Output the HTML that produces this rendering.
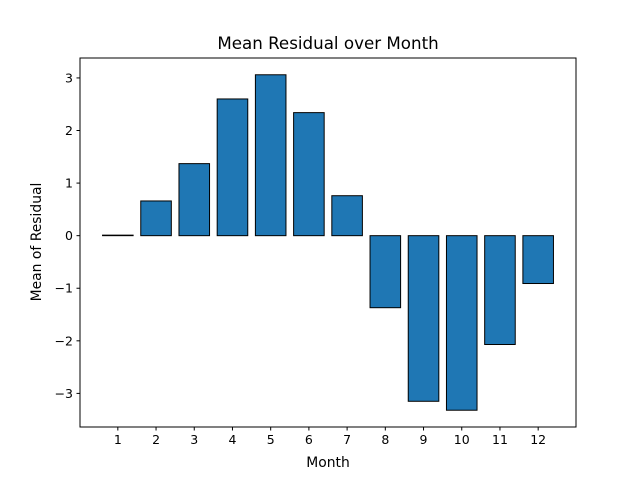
<!DOCTYPE html>
<html><head><meta charset="utf-8"><style>
body{margin:0;background:#fff}
svg{display:block;font-family:"DejaVu Sans","Liberation Sans",sans-serif}
</style></head><body>
<svg id="c" width="640" height="480" viewBox="0 0 640 480">
<rect width="640" height="480" fill="#fff"/>
<text x="328" y="49" text-anchor="middle" font-size="16.7">Mean Residual over Month</text>
<g id="bars"></g>
<g id="ticks"></g>
<rect x="80" y="58" width="496" height="369" fill="none" stroke="#000" stroke-width="1"/>
<text x="328" y="467" text-anchor="middle" font-size="13.9">Month</text>
<text transform="translate(41,242) rotate(-90)" text-anchor="middle" font-size="13.9">Mean of Residual</text>
</svg>
<script>
const categories=[1,2,3,4,5,6,7,8,9,10,11,12];
const values=[0.01,0.66,1.37,2.60,3.06,2.34,0.76,-1.37,-3.15,-3.32,-2.07,-0.91];
const yTicks=[-3,-2,-1,0,1,2,3];
const NS="http://www.w3.org/2000/svg";
const L=80,R=576,T=58,B=427;
let mn=Math.min(0,...values),mx=Math.max(0,...values);
let m=(mx-mn)*0.05;const y0=mn-m,y1=mx+m;
const x0=categories[0]-0.4-(categories.length-1+0.8)*0.05,x1=categories[categories.length-1]+0.4+(categories.length-1+0.8)*0.05;
const xs=v=>L+(v-x0)/(x1-x0)*(R-L);
const ys=v=>B-(v-y0)/(y1-y0)*(B-T);
const bars=document.getElementById('bars'),ticks=document.getElementById('ticks');
function mk(t,a,p){const e=document.createElementNS(NS,t);for(const k in a)e.setAttribute(k,a[k]);p.appendChild(e);return e;}
categories.forEach((c,i)=>{
 const v=values[i];const ya=ys(Math.max(v,0)),yb=ys(Math.min(v,0));
 const r=mk('rect',{x:xs(c-0.4),y:ya,width:xs(c+0.4)-xs(c-0.4),height:Math.max(yb-ya,0.5),fill:'#1f77b4',stroke:'#000','stroke-width':1},bars);
 
 
 const tl=mk('line',{x1:xs(c),x2:xs(c),y1:B,y2:B+3.5,stroke:'#000'},ticks);
 
 
 const tt=mk('text',{x:xs(c),y:B+17,'text-anchor':'middle','font-size':'12.5'},ticks);tt.textContent=c;
 
 
});
yTicks.forEach(v=>{
 const tl=mk('line',{x1:L-3.5,x2:L,y1:ys(v),y2:ys(v),stroke:'#000'},ticks);
 
 
 const tt=mk('text',{x:L-7,y:ys(v)+4.5,'text-anchor':'end','font-size':'12.5'},ticks);tt.textContent=v<0?'\u2212'+(-v):v;
 
 
});
</script>
</body></html>
